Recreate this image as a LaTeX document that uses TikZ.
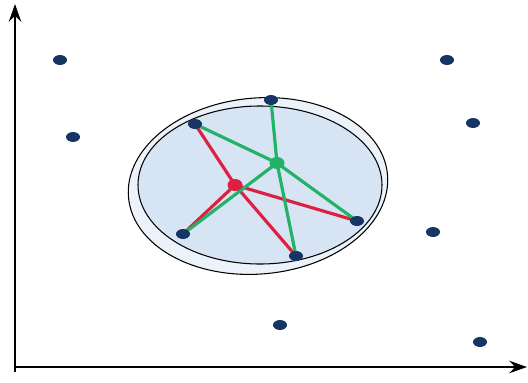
\documentclass[tikz,border=0pt]{standalone}
\usepackage{tikz}
\usetikzlibrary{shapes.geometric, arrows.meta, positioning}
\definecolor{dotblue}{RGB}{22,52,100}
\definecolor{linkred}{RGB}{222,32,64}
\definecolor{linkgreen}{RGB}{34,178,104}
\definecolor{clusterfill}{RGB}{214,228,244}
\definecolor{ringfill}{RGB}{236,242,249}

\begin{document}
\begin{tikzpicture}[>={Stealth[length=10pt,width=7pt]}, thick]
\tikzset{
    point/.style={draw=none, ellipse, minimum width=0.28cm, minimum height=0.2cm, inner sep=0pt, fill=dotblue},
    centre/.style={point, minimum width=0.3cm, minimum height=0.24cm},
    redlink/.style={draw=linkred, line width=1.8pt},
    greenlink/.style={draw=linkgreen, line width=1.8pt}
}
\useasboundingbox (0,0) rectangle (10.56,7.64);
% axes
\draw[line width=1.6pt, ->] (0.3,0.2) -- (0.3,7.56);
\draw[line width=1.6pt, ->] (0.3,0.3) -- (10.54,0.3);
% cluster region
\draw[fill=ringfill, line width=0.6pt, rotate around={5:(5.16,3.92)}] (5.16,3.92) ellipse (2.6cm and 1.76cm);
\draw[fill=clusterfill, line width=0.6pt] (5.2,3.94) ellipse (2.44cm and 1.58cm);
% outside points
\node[point] (P1) at (1.2,6.44) {}; \node[point] (P2) at (1.46,4.9) {};
\node[point] (P3) at (8.94,6.44) {}; \node[point] (P4) at (9.46,5.18) {};
\node[point] (P5) at (8.66,3.0) {}; \node[point] (P6) at (5.6,1.14) {};
\node[point] (P7) at (9.6,0.8) {};
% cluster points and links
\coordinate (Top) at (5.42,5.64); \coordinate (UpLeft) at (3.9,5.16);
\coordinate (LowLeft) at (3.66,2.96); \coordinate (Right) at (7.14,3.22);
\coordinate (Bottom) at (5.92,2.52);
\coordinate (G) at (5.54,4.38); \coordinate (R) at (4.7,3.94);
\foreach \n in {UpLeft, LowLeft, Bottom, Right} \draw[redlink] (R) -- (\n);
\foreach \n in {Top, UpLeft, LowLeft, Right, Bottom} \draw[greenlink] (G) -- (\n);
\foreach \n in {Top, UpLeft, LowLeft, Right, Bottom} \node[point] (\n Dot) at (\n) {};
\node[centre, fill=linkred] (RedCentre) at (R) {}; \node[centre, fill=linkgreen] (GreenCentre) at (G) {};
\end{tikzpicture}
\end{document}
